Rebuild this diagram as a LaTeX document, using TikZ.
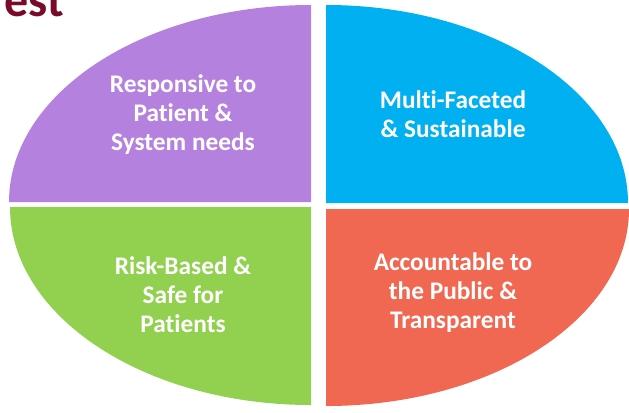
\documentclass[tikz,border=0pt]{standalone}
\usepackage{fontspec}
\setmainfont{Carlito}[Ligatures=NoCommon]
\definecolor{qpurple}{RGB}{180,130,222}
\definecolor{qcyan}{RGB}{0,176,240}
\definecolor{qgreen}{RGB}{146,208,80}
\definecolor{qorange}{RGB}{240,104,82}
\definecolor{qmaroon}{RGB}{122,10,42}
\begin{document}
\begin{tikzpicture}[x=0.75pt,y=0.75pt,
  lbl/.style={text=white,font=\bfseries\fontsize{19}{21.75}\selectfont,align=center,inner sep=0pt}]
\useasboundingbox (0,0) rectangle (629,412);
\fill[white] (0,0) rectangle (629,412);
\fill[qpurple] (311,210) -- (9,210) arc[start angle=180,end angle=90,x radius=302,y radius=197] -- cycle;
\fill[qcyan] (326,209) -- (326,407) arc[start angle=90,end angle=0,x radius=302,y radius=198] -- cycle;
\fill[qgreen] (311,205) -- (10,205) arc[start angle=180,end angle=270,x radius=301,y radius=198] -- cycle;
\fill[qorange] (326,203) -- (629,203) arc[start angle=0,end angle=-90,x radius=303,y radius=197] -- cycle;
\node[lbl] (tl) at (183,297) {Responsive to\\Patient \&\\System needs};
\node[lbl] (tr) at (453,297.5) {Multi-Faceted\\\& Sustainable};
\node[lbl] (bl) at (183,117.5) {Risk-Based \&\\Safe for\\Patients};
\node[lbl] (br) at (453,119.5) {Accountable to\\the Public \&\\Transparent};
\node[font=\bfseries\fontsize{36}{43}\selectfont,text=qmaroon,anchor=base west,inner sep=0pt] (title) at (-12,396) {rest};
\end{tikzpicture}
\end{document}
